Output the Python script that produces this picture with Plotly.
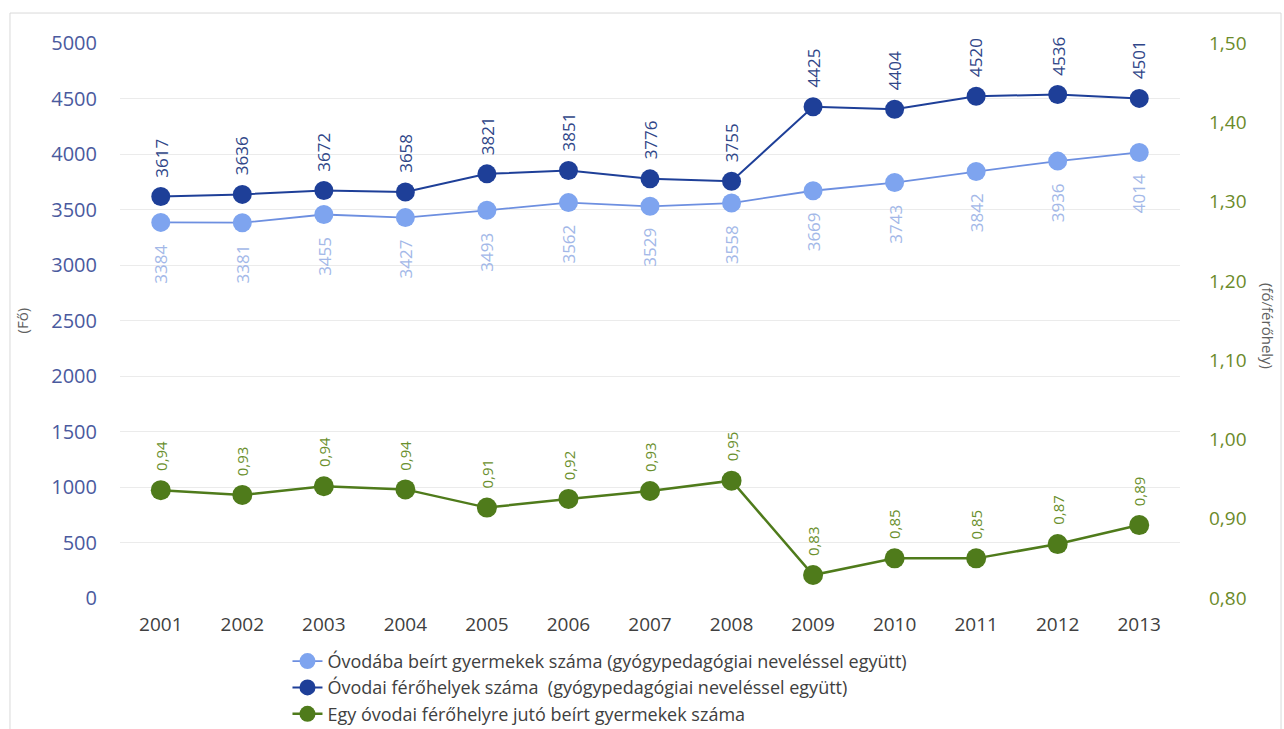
import plotly.graph_objects as go

# adatok
years = ['2001', '2002', '2003', '2004', '2005', '2006', '2007',
         '2008', '2009', '2010', '2011', '2012', '2013']
beirt = [3384, 3381, 3455, 3427, 3493, 3562, 3529, 3558, 3669, 3743, 3842, 3936, 4014]
ferohely = [3617, 3636, 3672, 3658, 3821, 3851, 3776, 3755, 4425, 4404, 4520, 4536, 4501]
arany = [0.936, 0.930, 0.941, 0.937, 0.914, 0.925, 0.935, 0.948, 0.829, 0.850, 0.850, 0.868, 0.892]
arany_txt = ['0,94', '0,93', '0,94', '0,94', '0,91', '0,92', '0,93', '0,95', '0,83', '0,85', '0,85', '0,87', '0,89']

y2_vals = [0.8, 0.9, 1.0, 1.1, 1.2, 1.3, 1.4, 1.5]
y2_text = ['0,80', '0,90', '1,00', '1,10', '1,20', '1,30', '1,40', '1,50']

names = ['Óvodába beírt gyermekek száma (gyógypedagógiai neveléssel együtt)',
         'Óvodai férőhelyek száma  (gyógypedagógiai neveléssel együtt)',
         'Egy óvodai férőhelyre jutó beírt gyermekek száma']

FONT = 'Open Sans'
c_light = '#7ea4ef'
c_dark = '#1e3f98'
c_green = '#4f7b1b'

fig = go.Figure()
fig.add_trace(go.Scatter(x=years, y=beirt, name=names[0], mode='lines+markers',
                         line=dict(color='#6d8fe0', width=1.8),
                         marker=dict(color=c_light, size=19)))
fig.add_trace(go.Scatter(x=years, y=ferohely, name=names[1], mode='lines+markers',
                         line=dict(color=c_dark, width=2),
                         marker=dict(color=c_dark, size=19)))
fig.add_trace(go.Scatter(x=years, y=arany, name=names[2], mode='lines+markers',
                         yaxis='y2',
                         line=dict(color=c_green, width=2.5),
                         marker=dict(color=c_green, size=20)))

# feliratok (kategória index szerint)
ann = []
for i, v in enumerate(ferohely):
    ann.append(dict(x=i, y=v, xref='x', yref='y', text=str(v), showarrow=False,
                    textangle=-90, xanchor='center', yanchor='bottom', yshift=17,
                    font=dict(family=FONT, size=17, color='#2f4688')))
for i, v in enumerate(beirt):
    ann.append(dict(x=i, y=v, xref='x', yref='y', text=str(v), showarrow=False,
                    textangle=-90, xanchor='center', yanchor='top', yshift=-20,
                    font=dict(family=FONT, size=17, color='#a3b8e8')))
for i, (v, t) in enumerate(zip(arany, arany_txt)):
    ann.append(dict(x=i, y=v, xref='x', yref='y2', text=t, showarrow=False,
                    textangle=-90, xanchor='center', yanchor='bottom', yshift=17,
                    font=dict(family=FONT, size=15, color='#6a8f2c')))

ann.append(dict(x=-0.0925, y=0.5, xref='paper', yref='paper', text='(Fő)', showarrow=False,
                textangle=-90, xanchor='center', yanchor='middle',
                font=dict(family=FONT, size=15, color='#606060')))
ann.append(dict(x=1.083, y=0.49, xref='paper', yref='paper', text='(fő/férőhely)', showarrow=False,
                textangle=90, xanchor='center', yanchor='middle',
                font=dict(family=FONT, size=15, color='#606060')))

# a figura magasabb az ablaknál, az alja (keret alsó éle) kilóg, mint az eredetin
fig.update_layout(
    width=1284, height=760,
    margin=dict(l=120, r=104, t=43, b=162),
    paper_bgcolor='white', plot_bgcolor='white',
    font=dict(family=FONT, color='#404040'),
    showlegend=True,
    legend=dict(x=0.158, y=-0.243, xanchor='left', yanchor='bottom',
                font=dict(family=FONT, size=18, color='#404040'),
                tracegroupgap=0, itemwidth=30),
    xaxis=dict(type='category', range=[-0.5, 12.5], showgrid=False, showline=False,
               tickfont=dict(family=FONT, size=19, color='#404040'),
               ticks='', ticklabelstandoff=13),
    yaxis=dict(range=[0, 5000], dtick=500, showgrid=True, gridcolor='#ebebeb',
               zeroline=False, showline=False,
               tickfont=dict(family=FONT, size=20, color='#4a5a9e'),
               ticklabelstandoff=22),
    yaxis2=dict(range=[0.8, 1.5], overlaying='y', side='right', showgrid=False,
                zeroline=False, showline=False, tickvals=y2_vals, ticktext=y2_text,
                tickfont=dict(family=FONT, size=19, color='#6b8a2a'),
                ticklabelstandoff=28),
    annotations=ann,
    shapes=[dict(type='rect', xref='paper', yref='paper', x0=-0.1038, x1=1.0953,
                 y0=-0.28, y1=1.054, line=dict(color='#d9d9d9', width=1))],
)

fig.write_html('out.html', config={'displayModeBar': False},
               post_script="document.body.style.margin='0';document.body.style.overflow='hidden';")
